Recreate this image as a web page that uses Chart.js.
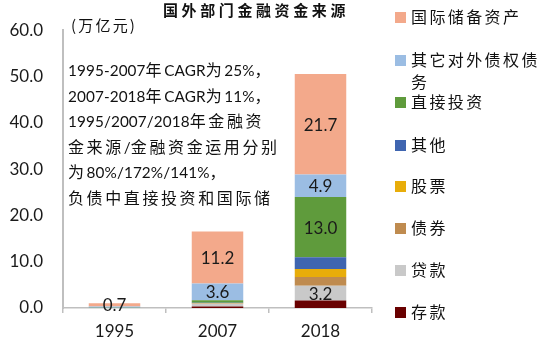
<!DOCTYPE html>
<html><head><meta charset="utf-8">
<script src="https://cdn.jsdelivr.net/npm/chart.js@4"></script>
<style>
html,body{margin:0;padding:0;background:#fff;}
#wrap{position:relative;width:550px;height:350px;overflow:hidden;}
#c{position:absolute;left:0;top:0;}
.ov{position:absolute;white-space:nowrap;color:#111;font-family:"Noto Sans CJK SC",sans-serif;pointer-events:none;}
#title{left:163px;top:0px;font-size:15px;font-weight:bold;letter-spacing:3.6px;line-height:20px;}
#unit{left:71px;top:14px;font-size:15px;letter-spacing:2.2px;line-height:22px;}
#note{left:68px;top:57px;font-size:16px;letter-spacing:2.6px;line-height:24.6px;}
#note .lat{font-family:Lato,sans-serif;font-size:15.3px;letter-spacing:0.1px;}
#legend{position:absolute;left:395px;top:0;width:155px;font-family:"Noto Sans CJK SC",sans-serif;}
.li{position:absolute;left:0;width:150px;}
.sw{position:absolute;left:0;width:11px;height:11px;}
.lt{position:absolute;left:16px;width:134px;white-space:normal;font-size:16px;letter-spacing:2.4px;line-height:22px;color:#111;}
</style></head>
<body>
<div id="wrap">
<canvas id="c" width="550" height="350"></canvas>
<div id="title" class="ov">国外部门金融资金来源</div>
<div id="unit" class="ov">(万亿元)</div>
<div id="note" class="ov"></div>
<div id="legend"></div>
</div>
<script>
const categories = ["1995", "2007", "2018"];
const seriesNames = ["国际储备资产", "其它对外债权债务", "直接投资", "其他", "股票", "债券", "贷款", "存款"];
const reserves   = [0.7, 11.2, 21.7];
const otherClaims = [0.3, 3.6, 4.9];
const fdi        = [0.05, 0.55, 13.0];
const others     = [0.0, 0.05, 2.5];
const equities   = [0.0, 0.05, 1.75];
const bonds      = [0.0, 0.15, 1.9];
const loans      = [0.0, 0.55, 3.2];
const deposits   = [0.0, 0.35, 1.6];
const seriesColors = ["#F3A98B", "#9BBDE3", "#5F9B3C", "#3F65B0", "#E8AD0A", "#BF8B4F", "#C9C9C9", "#690000"];
const labelShown = [[1,1,1],[0,1,1],[0,0,1],[0,0,0],[0,0,0],[0,0,0],[0,0,1],[0,0,0]];
const yTicks = [0, 10, 20, 30, 40, 50, 60];
const noteLines = ["1995-2007年CAGR为25%，", "2007-2018年CAGR为11%，", "1995/2007/2018年金融资", "金来源/金融资金运用分别", "为80%/172%/141%，", "负债中直接投资和国际储"];

const seriesValues = [reserves, otherClaims, fdi, others, equities, bonds, loans, deposits];
// stacking order: bottom is 存款, top is 国际储备资产
const datasets = seriesNames.map((n, i) => ({
  label: n,
  data: seriesValues[i],
  backgroundColor: seriesColors[i],
  borderWidth: 0,
  stack: "s",
  labelShown: labelShown[i]
})).reverse();

document.getElementById('note').innerHTML = noteLines.map(s =>
  '<div>' + s.replace(/([\x21-\x7e]+)/g, '<span class="lat">$1</span>') + '</div>').join('');

const leg = document.getElementById('legend');
const legendTops = [7, 50, 92, 135, 176, 218, 260, 302];
seriesNames.forEach((n, i) => {
  const d = document.createElement('div');
  d.className = 'li';
  d.style.top = legendTops[i] + 'px';
  d.innerHTML = '<div class="sw" style="top:5px;background:' + seriesColors[i] + '"></div><div class="lt" style="top:-2px">' + n + '</div>';
  leg.appendChild(d);
});

const labelPlugin = {
  id: 'segLabels',
  afterDatasetsDraw(chart) {
    const ctx = chart.ctx;
    ctx.save();
    ctx.font = '17px Lato, sans-serif';
    ctx.fillStyle = '#1a1a1a';
    ctx.textAlign = 'center';
    ctx.textBaseline = 'middle';
    chart.data.datasets.forEach((ds, di) => {
      const meta = chart.getDatasetMeta(di);
      meta.data.forEach((el, j) => {
        if (!ds.labelShown[j]) return;
        const p = el.getProps(['x', 'y', 'base'], true);
        ctx.fillText(ds.data[j].toFixed(1), p.x, (p.y + p.base) / 2 + 1);
      });
    });
    ctx.restore();
  }
};

new Chart(document.getElementById('c'), {
  type: 'bar',
  data: { labels: categories, datasets: datasets },
  options: {
    responsive: false,
    animation: false,
    devicePixelRatio: 1,
    layout: { padding: { top: 20, right: 178, left: 0, bottom: 0 } },
    plugins: { legend: { display: false }, title: { display: false }, tooltip: { enabled: false } },
    datasets: { bar: { categoryPercentage: 1, barPercentage: 0.5 } },
    scales: {
      x: {
        stacked: true,
        grid: { display: true, drawOnChartArea: false, drawTicks: true, tickLength: 5, color: '#BFBFBF', lineWidth: 1.5, offset: true },
        border: { display: true, color: '#BFBFBF', width: 1.5 },
        ticks: { font: { family: 'Lato', size: 17 }, color: '#1a1a1a', padding: 8 },
        afterFit(s) { s.height = 42; }
      },
      y: {
        stacked: true,
        min: 0, max: 60,
        grid: { display: false, drawTicks: false },
        border: { display: true, color: '#BFBFBF', width: 2 },
        afterBuildTicks(s) { s.ticks = yTicks.map(v => ({ value: v })); },
        ticks: { font: { family: 'Lato', size: 17 }, color: '#1a1a1a', padding: 20, callback: v => Number(v).toFixed(1) },
        afterFit(s) { s.width = 63; }
      }
    }
  },
  plugins: [labelPlugin]
});
</script>
</body></html>
